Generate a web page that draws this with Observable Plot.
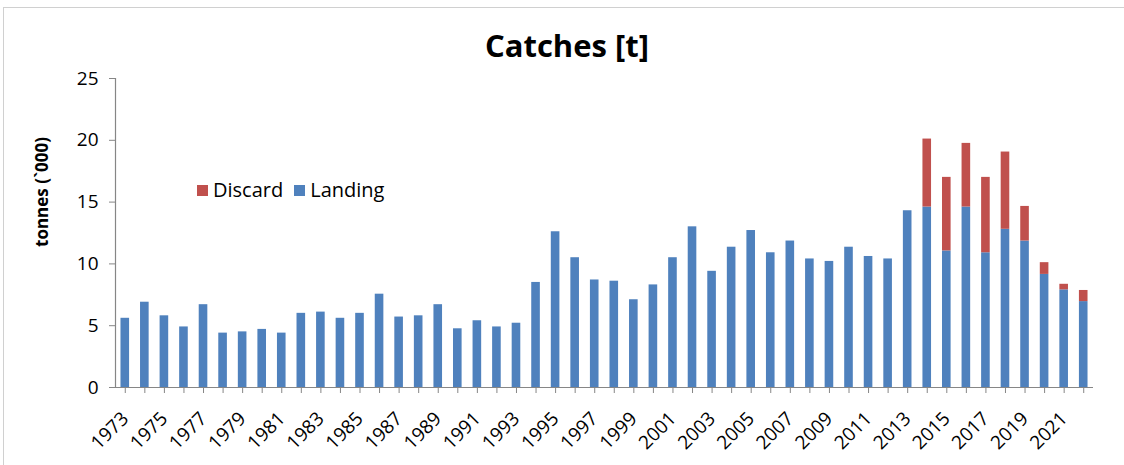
<!DOCTYPE html>
<html>
<head>
<meta charset="utf-8">
<script src="https://cdn.jsdelivr.net/npm/d3@7"></script>
<script src="https://cdn.jsdelivr.net/npm/@observablehq/plot@0.6"></script>
<style>
  body { margin: 0; background: #fff; font-family: "Open Sans", sans-serif; }
  #wrap { position: relative; width: 1124px; height: 465px; overflow: hidden; }
  #border { position: absolute; left: 3px; top: 7px; width: 1200px; height: 600px;
            border-top: 1px solid #d0d0d0; border-left: 1px solid #d0d0d0; }
  #chart { position: absolute; left: 0; top: 0; }
  #title { position: absolute; left: 0; width: 1134px; top: 30px; text-align: center;
           font-weight: bold; font-size: 31px; line-height: 31px; color: #000; }
  #legend { position: absolute; left: 197px; top: 180px; display: flex; align-items: center;
            font-size: 20px; line-height: 20px; color: #000; }
  .sw { width: 11px; height: 11px; margin-right: 5px; }
  .item { display: flex; align-items: center; margin-right: 11px; }
</style>
</head>
<body>
<div id="wrap">
  <div id="border"></div>
  <div id="chart"></div>
  <div id="title">Catches [t]</div>
  <div id="legend"></div>
</div>
<script>
const years = [1973,1974,1975,1976,1977,1978,1979,1980,1981,1982,1983,1984,1985,1986,1987,1988,1989,1990,1991,1992,
  1993,1994,1995,1996,1997,1998,1999,2000,2001,2002,2003,2004,2005,2006,2007,2008,2009,2010,2011,2012,
  2013,2014,2015,2016,2017,2018,2019,2020,2021,2022];
const landing = [5.6,6.9,5.8,4.9,6.7,4.4,4.5,4.7,4.4,6.0,6.1,5.6,6.0,7.55,5.7,5.8,6.7,4.75,5.4,4.9,
  5.2,8.5,12.6,10.5,8.7,8.6,7.1,8.3,10.5,13.0,9.4,11.35,12.7,10.9,11.85,10.4,10.2,11.35,10.6,10.4,
  14.3,14.6,11.05,14.6,10.9,12.8,11.85,9.15,7.9,6.95];
const discard = [0,0,0,0,0,0,0,0,0,0,0,0,0,0,0,0,0,0,0,0,
  0,0,0,0,0,0,0,0,0,0,0,0,0,0,0,0,0,0,0,0,
  0,5.5,5.95,5.15,6.1,6.25,2.8,0.95,0.45,0.9];
const labelYears = [1973,1975,1977,1979,1981,1983,1985,1987,1989,1991,1993,1995,1997,1999,
  2001,2003,2005,2007,2009,2011,2013,2015,2017,2019,2021];
const yTicks = [0,5,10,15,20,25];
const seriesNames = ["Discard","Landing"];
const seriesColors = ["#C0504D","#4F81BD"];
const yLabel = "tonnes (`000)";

const rows = [];
years.forEach((yr, i) => {
  rows.push({year: yr, series: "Landing", value: landing[i]});
  rows.push({year: yr, series: "Discard", value: discard[i]});
});

const chart = Plot.plot({
  width: 1124, height: 465,
  marginLeft: 115, marginRight: 31, marginTop: 78, marginBottom: 78,
  style: {fontFamily: "Open Sans, sans-serif", background: "transparent", color: "#000", overflow: "visible"},
  x: {type: "band", domain: years, paddingInner: 0.56, paddingOuter: 0.28, round: false, axis: null, label: null},
  y: {domain: [0, 25], axis: null, label: null},
  color: {domain: seriesNames, range: seriesColors},
  marks: [
    Plot.barY(rows, {x: "year", y: "value", fill: "series", order: ["Landing", "Discard"]}),
    Plot.ruleY([0], {stroke: "#868686", strokeWidth: 1.2}),
    Plot.frame({anchor: "left", stroke: "#868686", strokeWidth: 1.2}),
    Plot.axisX({ticks: years, tickSize: 6, tickFormat: () => "", stroke: "#868686", label: null}),
    Plot.axisY({ticks: yTicks, tickSize: 6, tickPadding: 11, fontSize: 19, stroke: "#868686", fill: "#000", label: null}),
    Plot.text(labelYears, {x: d => d, text: d => String(d), frameAnchor: "bottom", dy: 28, dx: 0, rotate: -45,
      textAnchor: "end", lineAnchor: "middle", fontSize: 19, fill: "#000"}),
    Plot.text([yLabel], {frameAnchor: "left", dx: -73, dy: 14, rotate: -90,
      fontWeight: "bold", fontSize: 17, fill: "#000"})
  ]
});
document.getElementById("chart").appendChild(chart);

const legend = document.getElementById("legend");
seriesNames.forEach((name, i) => {
  const item = document.createElement("div");
  item.className = "item";
  const sw = document.createElement("div");
  sw.className = "sw";
  sw.style.background = seriesColors[i];
  const t = document.createElement("span");
  t.textContent = name;
  item.appendChild(sw); item.appendChild(t);
  legend.appendChild(item);
});
</script>
</body>
</html>
